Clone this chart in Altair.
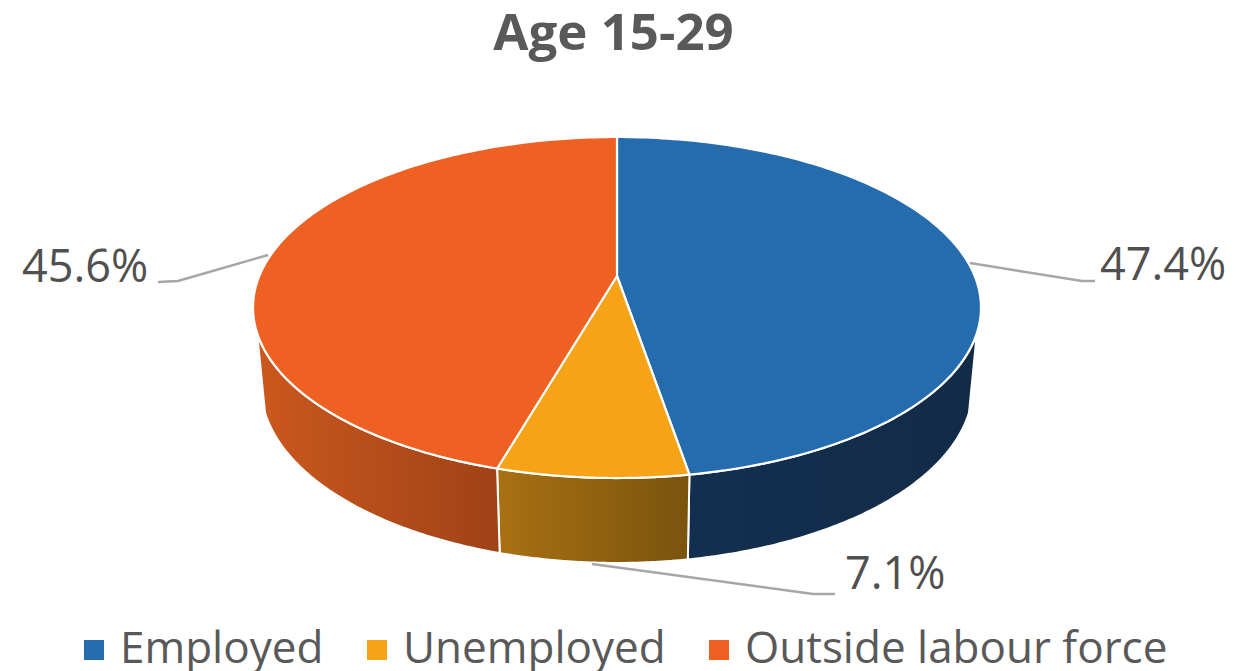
import altair as alt
import numpy as np
import pandas as pd

series = ["Employed", "Unemployed", "Outside labour force"]
shares = [47.4, 7.1, 45.6]
labels = ["47.4%", "7.1%", "45.6%"]
top_colors = ["#256CAF", "#F6A317", "#EE6123"]
wall_stops = [["#132F4F", "#122B47"], ["#A87112", "#7A530E"], ["#CB581E", "#9F4216"]]

FONT = "Open Sans"
X_DOMAIN = [8, 1229]      # image pixel frame of the plot
Y_DOMAIN = [620, 70]

# Tilted-disc projection of the pie (perspective), top face and bottom face
CX = 617.0
K = -0.1848
TOP = dict(a=357.7, b=164.7, y0=275.0)
BOTTOM = dict(a=349.9, b=170.9, y0=352.3)
WALL_LEFT, WALL_RIGHT = 251.0, 109.0


def project(theta, face):
    t = np.radians(theta)
    u, v = np.sin(t), -np.cos(t)
    d = 1 + K * v
    return CX + face["a"] * u / d, face["y0"] + face["b"] * v / d


edges = np.concatenate([[0], np.cumsum(shares) / np.sum(shares) * 360])

top_rows = []
for i, name in enumerate(series):
    th = np.linspace(edges[i], edges[i + 1], 160)
    xs, ys = project(th, TOP)
    top_rows.append(pd.DataFrame({"series": name, "x": [CX, *xs], "y": [TOP["y0"], *ys]}))
top_df = pd.concat(top_rows).reset_index(drop=True)
top_df["o"] = top_df.index

spans = [(WALL_RIGHT, edges[1]), (edges[1], edges[2]), (edges[2], WALL_LEFT)]
scale_x = alt.Scale(domain=X_DOMAIN, nice=False, zero=False)
scale_y = alt.Scale(domain=Y_DOMAIN, nice=False, zero=False)
X = alt.X("x:Q", scale=scale_x, axis=None)
Y = alt.Y("y:Q", scale=scale_y, axis=None)

walls = []
for (a, b), stops in zip(spans, wall_stops):
    th = np.linspace(a, b, 100)
    tx, ty = project(th, TOP)
    bx, by = project(th[::-1], BOTTOM)
    d = pd.DataFrame({"x": [*tx, *bx], "y": [*ty, *by]})
    d["o"] = d.index
    grad = alt.LinearGradient(
        gradient="linear", x1=0, x2=1, y1=0, y2=0,
        stops=[alt.GradientStop(offset=0, color=stops[0]), alt.GradientStop(offset=1, color=stops[1])],
    )
    walls.append(
        alt.Chart(d).mark_line(interpolate="linear-closed", fill=grad, stroke="#FFFFFF", strokeWidth=2).encode(
            x=X, y=Y, order="o:Q"
        )
    )

top = alt.Chart(top_df).mark_line(interpolate="linear-closed", stroke="#FFFFFF", strokeWidth=2.2).encode(
    x=X,
    y=Y,
    order="o:Q",
    fill=alt.Fill(
        "series:N",
        scale=alt.Scale(domain=series, range=top_colors),
        legend=alt.Legend(
            orient="none", legendX=64, legendY=557, direction="horizontal", columns=3, title=None,
            symbolType="square", symbolSize=400, symbolStrokeWidth=0, labelFont=FONT, labelFontSize=44,
            labelColor="#595959", labelOffset=4, columnPadding=31, gridAlign="none", labelLimit=600,
        ),
    ),
)

leader_df = pd.DataFrame({
    "k": ["a", "a", "a", "b", "b", "b", "c", "c", "c"],
    "x": [970, 1082, 1095, 592, 813, 835, 268, 178, 158],
    "y": [262, 280, 280, 563, 593, 593, 254, 280, 281],
    "o": range(9),
})
leaders = alt.Chart(leader_df).mark_line(stroke="#A6A6A6", strokeWidth=2.5).encode(
    x=X, y=Y, detail="k:N", order="o:Q"
)

label_df = pd.DataFrame({"t": labels, "x": [1100, 845, 22], "y": [279, 588, 281]})
text = alt.Chart(label_df).mark_text(
    align="left", baseline="alphabetic", font=FONT, fontSize=45, color="#505050"
).encode(x=X, y=Y, text="t:N")

chart = (
    alt.layer(*walls, top, leaders, text)
    .properties(
        width=1221,
        height=550,
        padding={"top": 1, "left": 0, "right": 0, "bottom": 0},
        title=alt.TitleParams("Age 15-29", font=FONT, fontSize=51, fontWeight="bold", color="#595959", anchor="middle", offset=10, dx=-5),
    )
    .configure_view(stroke=None)
)
chart.save("out.html", embed_options={"renderer": "svg", "actions": False})
